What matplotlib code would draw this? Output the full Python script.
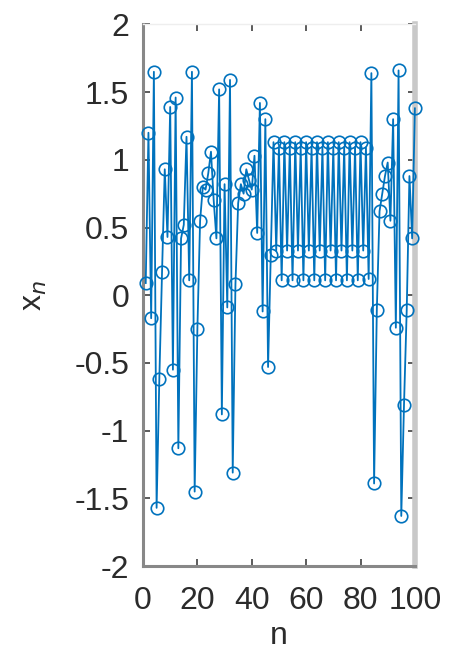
import matplotlib
matplotlib.use("Agg")
import matplotlib.pyplot as plt

# iteration index and sampled values of the sequence x_n
n_index = list(range(1, 101))
x_values = [
    0.09, 1.20, -0.17, 1.65, -1.57, -0.62, 0.17, 0.93, 0.43, 1.39,
    -0.55, 1.46, -1.13, 0.42, 0.52, 1.17, 0.11, 1.65, -1.45, -0.25,
    0.55, 0.80, 0.78, 0.90, 1.06, 0.70, 0.42, 1.52, -0.88, 0.82,
    -0.09, 1.59, -1.31, 0.08, 0.68, 0.82, 0.75, 0.93, 0.85, 0.78,
    1.03, 0.46, 1.42, -0.12, 1.30, -0.53, 0.30, 1.13, 0.33, 1.09,
    0.11, 1.13, 0.33, 1.09, 0.11, 1.13, 0.33, 1.09, 0.11, 1.13,
    0.33, 1.09, 0.11, 1.13, 0.33, 1.09, 0.11, 1.13, 0.33, 1.09,
    0.11, 1.13, 0.33, 1.09, 0.11, 1.13, 0.33, 1.09, 0.11, 1.13,
    0.33, 1.09, 0.12, 1.64, -1.39, -0.11, 0.62, 0.75, 0.88, 0.98,
    0.55, 1.30, -0.24, 1.66, -1.63, -0.81, -0.11, 0.88, 0.42, 1.38,
]

x_ticks = [0, 20, 40, 60, 80, 100]
y_ticks = [-2, -1.5, -1, -0.5, 0, 0.5, 1, 1.5, 2]
y_tick_labels = ["-2", "-1.5", "-1", "-0.5", "0", "0.5", "1", "1.5", "2"]

plt.rcParams["font.family"] = ["Liberation Sans", "DejaVu Sans"]

fig = plt.figure(figsize=(4.49, 6.59), dpi=100)
ax = fig.add_axes([0.3185, 0.141, 0.6055, 0.822])

blue = "#0072BD"
ax.plot(n_index, x_values, color=blue, linewidth=1.3, marker="o",
        markersize=9, markerfacecolor="none", markeredgecolor=blue,
        markeredgewidth=1.2, clip_on=False, zorder=3)

ax.set_xlim(0, 100)
ax.set_ylim(-2, 2)
ax.set_xticks(x_ticks)
ax.set_xticklabels([str(t) for t in x_ticks])
ax.set_yticks(y_ticks)
ax.set_yticklabels(y_tick_labels)

text_color = "#2b2b2b"
ax.tick_params(direction="in", length=5, width=1.2, color="#404040",
               labelsize=23, labelcolor=text_color, top=True, right=True)
ax.tick_params(axis="y", pad=10)
ax.tick_params(axis="x", pad=14)

for side in ("left", "bottom"):
    ax.spines[side].set_color("#888888")
    ax.spines[side].set_linewidth(2.2)
ax.spines["right"].set_color("#c8c8c8")
ax.spines["right"].set_linewidth(4)
ax.spines["top"].set_color("#eeeeee")
ax.spines["top"].set_linewidth(1)

ax.set_xlabel("n", fontsize=23, color=text_color, labelpad=4)
ax.set_ylabel(r"x$_{n}$", fontsize=23, color=text_color, labelpad=18)

fig.savefig("out.png", dpi=100)
